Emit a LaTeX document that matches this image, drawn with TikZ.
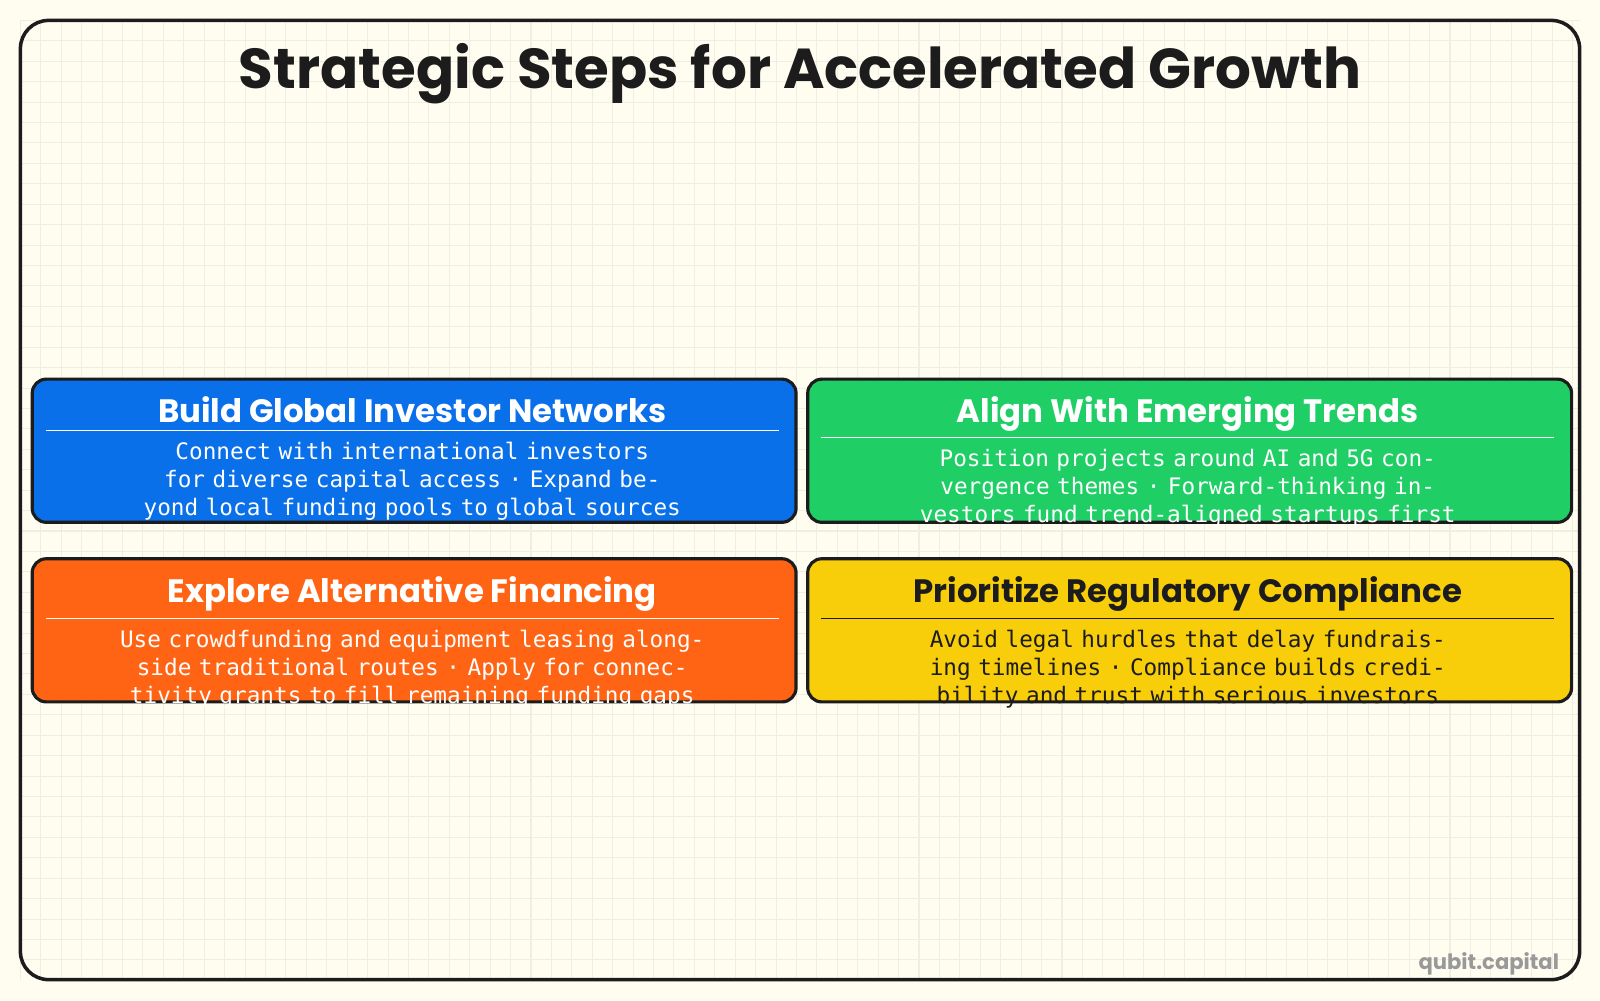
\documentclass[tikz,border=0pt]{standalone}
\usepackage{fontspec}
\setmainfont{Poppins}
\newfontfamily\codefont{DejaVu Sans Mono}
\usetikzlibrary{positioning}
\definecolor{paper}{HTML}{FFFDF0}
\definecolor{gridline}{HTML}{EEEEE2}
\definecolor{cblue}{HTML}{0A70EA}
\definecolor{cgreen}{HTML}{20CE66}
\definecolor{corange}{HTML}{FF6414}
\definecolor{cyellow}{HTML}{F8CD0A}
\definecolor{ink}{HTML}{1C1C1C}
\newcommand\nohyph{\hyphenpenalty=10000 \exhyphenpenalty=10000 }
\tikzset{
  card/.style={draw=ink, line width=0.9pt, rounded corners=4pt, minimum width=7.63cm, minimum height=1.43cm, anchor=north west},
  cardtitle/.style={font=\fontsize{9.2}{11}\selectfont\bfseries, inner sep=0pt, anchor=base},
  cardbody/.style={font=\codefont\fontsize{6.45}{7.9}\selectfont, text width=7.35cm, align=center, inner sep=0pt, anchor=north},
}
\begin{document}
\begin{tikzpicture}[x=0.0102cm, y=-0.0102cm]
	\useasboundingbox (0,0) rectangle (1568,980);
	\fill[paper] (0,0) rectangle (1568,980);
	\draw[gridline, line width=0.3pt, step=0.204cm] (20,20) grid (1548,960);
	\draw[ink, line width=1pt, rounded corners=8pt] (20,20) rectangle (1548,960);
	
	\node[font=\fontsize{16}{20}\selectfont\bfseries, text=ink] (title) at (784,72) {Strategic Steps for Accelerated Growth};
	
	\node[card, fill=cblue]   (build)   at (30,370)  {};
	\node[card, fill=cgreen]  (align)   at (790,370) {};
	\node[card, fill=corange] (explore) at (30,546)  {};
	\node[card, fill=cyellow] (comply)  at (790,546) {};
	
	\node[cardtitle, text=white] (buildT)   at (404,414)  {Build Global Investor Networks};
	\node[cardtitle, text=white] (alignT)   at (1164,414) {Align With Emerging Trends};
	\node[cardtitle, text=white] (exploreT) at (404,590)  {Explore Alternative Financing};
	\node[cardtitle, text=ink]   (complyT)  at (1164,590) {Prioritize Regulatory Compliance};
	
	\draw[white, line width=0.4pt] (45,422) -- (763,422);
	\draw[white, line width=0.4pt] (805,429) -- (1523,429);
	\draw[white, line width=0.4pt] (45,606) -- (763,606);
	\draw[ink, line width=0.4pt] (805,606) -- (1523,606);
	
	\node[cardbody, text=white] (buildB) at (404,433) {\nohyph Connect with international investors for diverse capital access · Expand beyond local funding pools to global sources};
	\node[cardbody, text=white] (alignB) at (1164,440) {\nohyph Position projects around AI and 5G convergence themes · Forward-thinking investors fund trend-aligned startups first};
	\node[cardbody, text=white] (exploreB) at (404,617) {\nohyph Use crowdfunding and equipment leasing alongside traditional routes · Apply for connectivity grants to fill remaining funding gaps};
	\node[cardbody, text=ink] (complyB) at (1164,617) {\nohyph Avoid legal hurdles that delay fundraising timelines · Compliance builds credibility and trust with serious investors};
	
	\node[font=\fontsize{6}{7}\selectfont\bfseries, text=gray!80, anchor=east] (mark) at (1540,945) {qubit.capital};
\end{tikzpicture}
\end{document}
